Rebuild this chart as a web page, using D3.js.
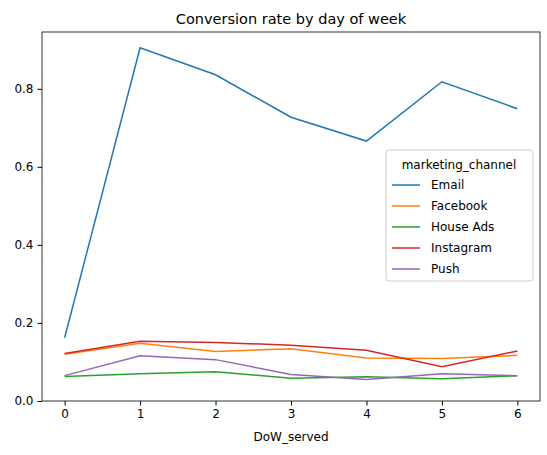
<!DOCTYPE html>
<html><head><meta charset="utf-8">
<script src="https://cdn.jsdelivr.net/npm/d3@7"></script>
<style>body{margin:0;background:#fff}text{font-family:"DejaVu Sans",sans-serif}</style>
</head><body><svg width="547" height="455"></svg>
<script>
const days = [0, 1, 2, 3, 4, 5, 6]
const channels = ['Email', 'Facebook', 'House Ads', 'Instagram', 'Push']
const colors = ['#1f77b4', '#ff7f0e', '#2ca02c', '#d62728', '#9467bd']
const email = [0.162, 0.905, 0.836, 0.727, 0.666, 0.818, 0.749]
const facebook = [0.120, 0.148, 0.127, 0.134, 0.110, 0.109, 0.117]
const houseAds = [0.063, 0.070, 0.075, 0.058, 0.062, 0.057, 0.065]
const instagram = [0.122, 0.153, 0.150, 0.143, 0.130, 0.088, 0.128]
const push = [0.065, 0.116, 0.106, 0.068, 0.055, 0.070, 0.065]
const series = [email, facebook, houseAds, instagram, push]
const yTicks = [0, 0.2, 0.4, 0.6, 0.8]

const svg = d3.select('svg')
const m = { left: 42, right: 540, top: 32, bottom: 401 }
const x = d3.scaleLinear().domain([-0.3, 6.3]).range([m.left, m.right])
const y = d3.scaleLinear().domain([0, 0.9455]).range([m.bottom, m.top])

svg.append('g').attr('transform', `translate(0,${m.bottom})`)
  .call(d3.axisBottom(x).tickValues(days).tickFormat(d3.format('d')).tickSize(4.5).tickPadding(4))
svg.append('g').attr('transform', `translate(${m.left},0)`)
  .call(d3.axisLeft(y).tickValues(yTicks).tickFormat(d3.format('.1f')).tickSize(4.5).tickPadding(4))
svg.selectAll('.tick text').attr('font-size', 12).attr('fill', '#000')
svg.selectAll('.domain').remove()
svg.append('rect').attr('x', m.left).attr('y', m.top).attr('width', m.right - m.left)
  .attr('height', m.bottom - m.top).attr('fill', 'none').attr('stroke', '#000').attr('stroke-width', 0.8)

const line = d3.line().x((d, i) => x(days[i])).y(d => y(d))
series.forEach((s, i) => {
  svg.append('path').datum(s).attr('d', line).attr('fill', 'none')
    .attr('stroke', colors[i]).attr('stroke-width', 1.5)
})

svg.append('text').attr('x', (m.left + m.right) / 2).attr('y', 24)
  .attr('text-anchor', 'middle').attr('font-size', 14.5).text('Conversion rate by day of week')
svg.append('text').attr('x', (m.left + m.right) / 2).attr('y', 441)
  .attr('text-anchor', 'middle').attr('font-size', 12).text('DoW_served')

const lg = svg.append('g').attr('transform', 'translate(386,150)')
lg.append('rect').attr('width', 147).attr('height', 131).attr('rx', 3)
  .attr('fill', '#fff').attr('fill-opacity', 0.8).attr('stroke', '#ccc')
lg.append('text').attr('x', 73).attr('y', 19).attr('text-anchor', 'middle')
  .attr('font-size', 12).text('marketing_channel')
channels.forEach((c, i) => {
  const yy = 35 + i * 21
  lg.append('line').attr('x1', 6).attr('x2', 34).attr('y1', yy).attr('y2', yy)
    .attr('stroke', colors[i]).attr('stroke-width', 1.5)
  lg.append('text').attr('x', 45).attr('y', yy + 4).attr('font-size', 12).text(c)
})
</script></body></html>
